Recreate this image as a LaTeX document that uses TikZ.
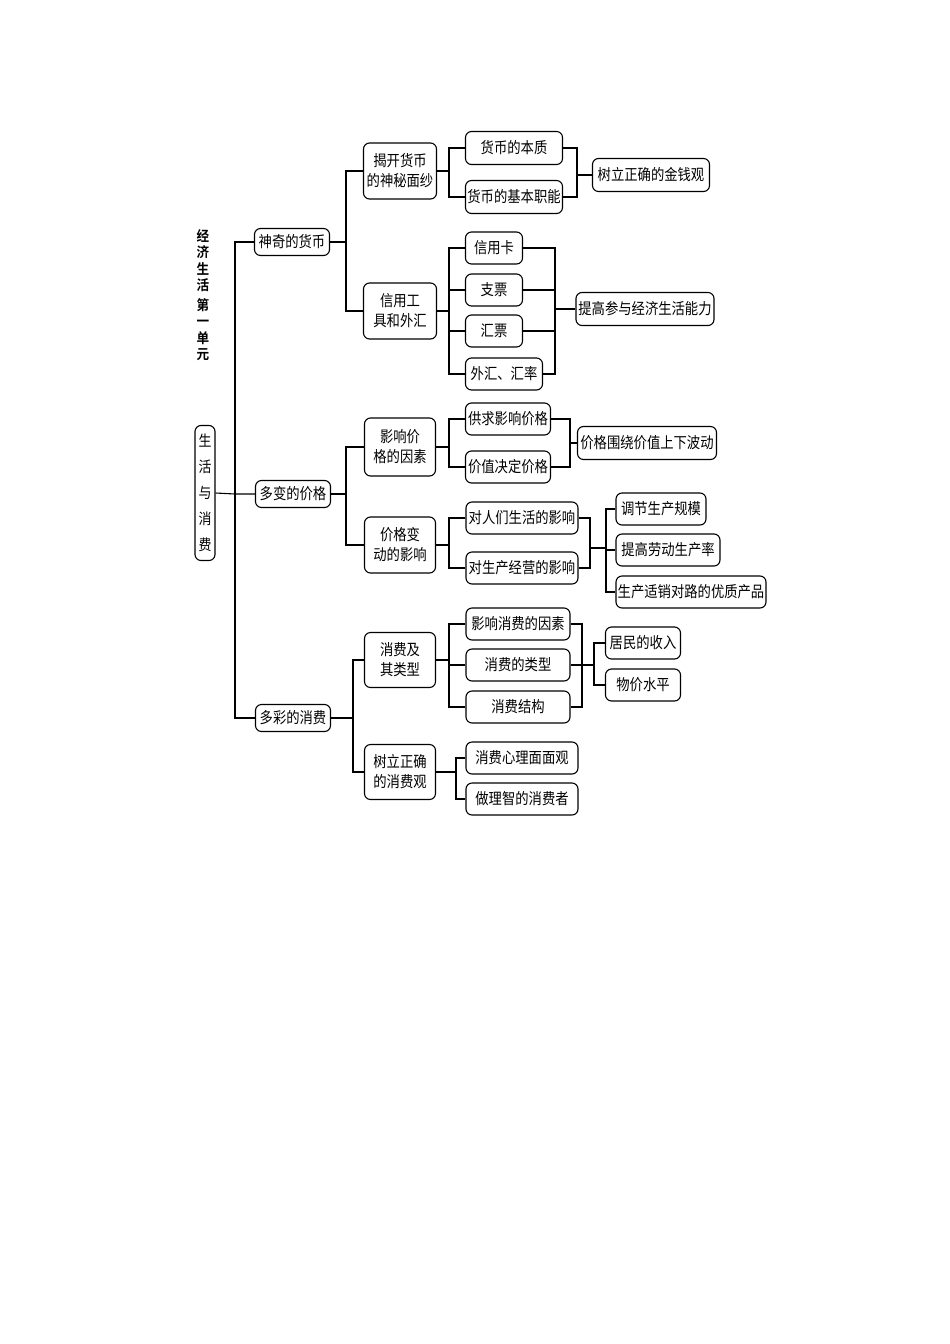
\documentclass[tikz,border=0pt]{standalone}
\usepackage{fontspec}
\newfontfamily\cjk[FakeStretch=0.86]{Noto Sans CJK SC}
\newfontfamily\cjkb[FakeStretch=0.9]{Noto Sans CJK SC Bold}
\begin{document}
\begin{tikzpicture}[x=1pt,y=-1pt,
  b/.style={draw,rounded corners=6,line width=1.1pt,inner sep=0pt,align=center,font=\cjk\fontsize{15.5}{20}\selectfont},
  w/.style args={#1x#2}{minimum width=#1,minimum height=#2},
  ln/.style={line width=1.1pt}]
\useasboundingbox (0,0) rectangle (950,1344);
\node[font=\cjkb\fontsize{14}{16.5}\selectfont,align=center] (title) at (203,295) {经\\济\\生\\活\\[3pt]第\\一\\单\\元};
\node[b,w=20x135,font=\cjk\fontsize{15}{26}\selectfont] (root) at (205,493) {生\\活\\与\\消\\费};
% level 1
\node[b,w=75x27] (a) at (292,242) {神奇的货币};
\node[b,w=75x27] (b) at (293,494) {多变的价格};
\node[b,w=75x27] (c) at (293,718) {多彩的消费};
\coordinate (r) at (235,494);
\draw[ln] (root.east) -- (r) (r) -- (b.west);
\draw[ln] (a.west) -| (r) |- (c.west);
% level 2
\node[b,w=73x56] (a1) at (400,171) {揭开货币\\的神秘面纱};
\node[b,w=73x56] (a2) at (400,311) {信用工\\具和外汇};
\node[b,w=71x58] (b1) at (400,447) {影响价\\格的因素};
\node[b,w=71x56] (b2) at (400,545) {价格变\\动的影响};
\node[b,w=71x55] (c1) at (400,660) {消费及\\其类型};
\node[b,w=71x55] (c2) at (400,772) {树立正确\\的消费观};
\coordinate (ja) at (346,242); \coordinate (jb) at (346,494); \coordinate (jc) at (353,718);
\draw[ln] (a.east) -- (ja); \draw[ln] (a1.west) -| (ja) |- (a2.west);
\draw[ln] (b.east) -- (jb); \draw[ln] (b1.west) -| (jb) |- (b2.west);
\draw[ln] (c.east) -- (jc); \draw[ln] (c1.west) -| (jc) |- (c2.west);
% level 3 money
\node[b,w=97x33] (a11) at (514,148) {货币的本质};
\node[b,w=97x33] (a12) at (514,197) {货币的基本职能};
\node[b,w=117x33] (a1r) at (651,175) {树立正确的金钱观};
\coordinate (ja1) at (449,171); \coordinate (ma1) at (577,175);
\draw[ln] (a1.east) -- (ja1); \draw[ln] (a11.west) -| (ja1) |- (a12.west);
\draw[ln] (a11.east) -| (ma1) |- (a12.east); \draw[ln] (ma1) -- (a1r.west);
\node[b,w=57x32] (a21) at (494,248) {信用卡};
\node[b,w=57x32] (a22) at (494,290) {支票};
\node[b,w=57x32] (a23) at (494,331) {汇票};
\node[b,w=77x32] (a24) at (504,374) {外汇、汇率};
\node[b,w=138x33] (a2r) at (645,309) {提高参与经济生活能力};
\coordinate (ja2) at (449,311); \coordinate (ma2) at (555,309);
\draw[ln] (a2.east) -- (ja2); \draw[ln] (a21.west) -| (ja2) |- (a24.west);
\draw[ln] (ja2 |- a22.west) -- (a22.west); \draw[ln] (ja2 |- a23.west) -- (a23.west);
\draw[ln] (a21.east) -| (ma2) |- (a24.east);
\draw[ln] (a22.east) -- (ma2 |- a22.east); \draw[ln] (a23.east) -- (ma2 |- a23.east);
\draw[ln] (ma2) -- (a2r.west);
% level 3 price
\node[b,w=85x32] (b11) at (508,419) {供求影响价格};
\node[b,w=85x32] (b12) at (508,467) {价值决定价格};
\node[b,w=139x33] (b1r) at (647,443) {价格围绕价值上下波动};
\coordinate (jb1) at (449,447); \coordinate (mb1) at (570,443);
\draw[ln] (b1.east) -- (jb1); \draw[ln] (b11.west) -| (jb1) |- (b12.west);
\draw[ln] (b11.east) -| (mb1) |- (b12.east); \draw[ln] (mb1) -- (b1r.west);
\node[b,w=112x32] (b21) at (522,518) {对人们生活的影响};
\node[b,w=112x32] (b22) at (522,568) {对生产经营的影响};
\coordinate (jb2) at (449,545); \coordinate (mb2) at (590,548); \coordinate (kb2) at (606,548);
\draw[ln] (b2.east) -- (jb2); \draw[ln] (b21.west) -| (jb2) |- (b22.west);
\draw[ln] (b21.east) -| (mb2) |- (b22.east); \draw[ln] (mb2) -- (kb2);
\node[b,w=90x32] (b31) at (661,509) {调节生产规模};
\node[b,w=104x32] (b32) at (668,550) {提高劳动生产率};
\node[b,w=150x32] (b33) at (691,592) {生产适销对路的优质产品};
\draw[ln] (b31.west) -| (kb2) |- (b33.west); \draw[ln] (kb2 |- b32.west) -- (b32.west);
% level 3 consumption
\node[b,w=104x32] (c11) at (518,624) {影响消费的因素};
\node[b,w=104x32] (c12) at (518,665) {消费的类型};
\node[b,w=104x32] (c13) at (518,707) {消费结构};
\coordinate (jc1) at (449,660); \coordinate (mc1) at (582,665); \coordinate (kc1) at (594,665);
\draw[ln] (c1.east) -- (jc1); \draw[ln] (c11.west) -| (jc1) |- (c13.west);
\draw[ln] (jc1 |- c12.west) -- (c12.west);
\draw[ln] (c11.east) -| (mc1) |- (c13.east); \draw[ln] (c12.east) -- (kc1);
\node[b,w=75x32] (c31) at (643,643) {居民的收入};
\node[b,w=75x32] (c32) at (643,685) {物价水平};
\draw[ln] (c31.west) -| (kc1) |- (c32.west);
\node[b,w=112x32] (c21) at (522,758) {消费心理面面观};
\node[b,w=112x32] (c22) at (522,799) {做理智的消费者};
\coordinate (jc2) at (456,772);
\draw[ln] (c2.east) -- (jc2); \draw[ln] (c21.west) -| (jc2) |- (c22.west);
\end{tikzpicture}
\end{document}
